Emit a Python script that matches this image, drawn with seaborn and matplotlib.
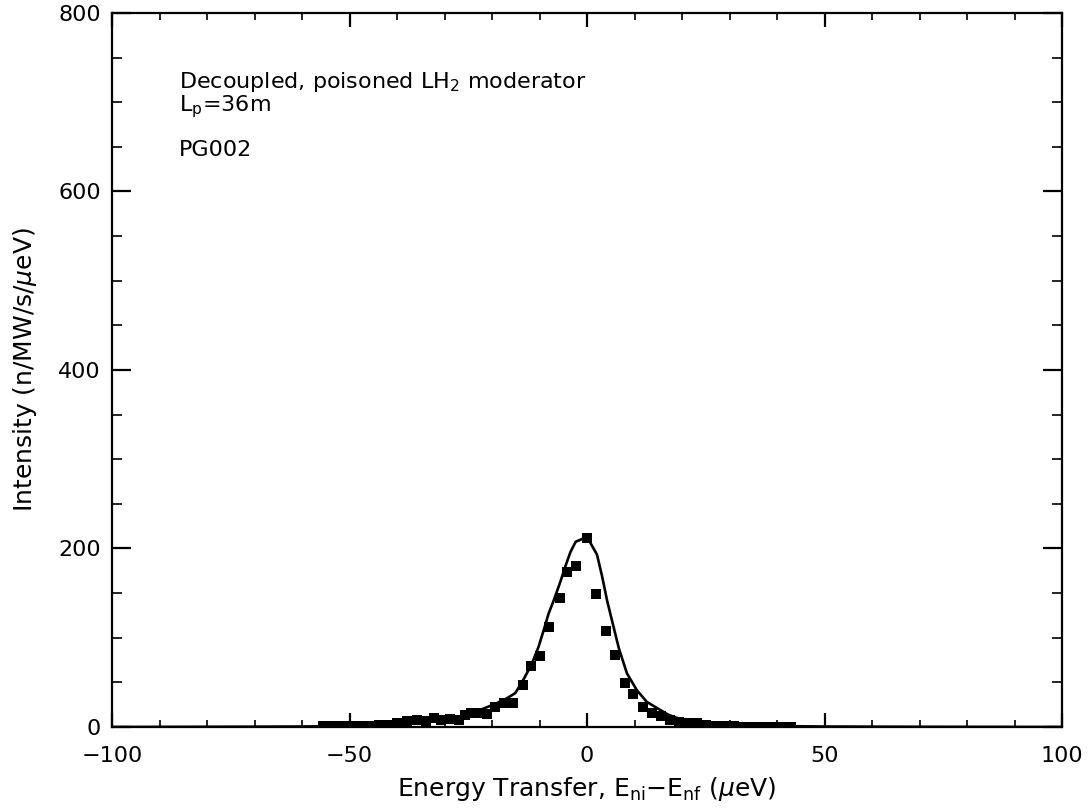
"""
Moderator line-shape plot: measured intensity vs. energy transfer
with the model curve on top.
"""
import matplotlib
matplotlib.use("Agg")
import matplotlib.pyplot as plt
from matplotlib.ticker import MultipleLocator
import pandas as pd
import seaborn as sns

# --- data ---
energy_pts = [-55.6, -53.7, -51.8, -49.9, -47.8, -45.7, -43.9, -42.0, -40.0, -37.9,
              -35.8, -34.0, -32.3, -30.7, -28.8, -27.0, -25.8, -24.4, -22.8, -21.1,
              -19.4, -17.5, -15.6, -13.5, -11.8, -9.9, -8.0, -5.8, -4.2, -2.3,
              0.0, 1.8, 4.0, 5.8, 7.9, 9.7, 11.8, 13.6, 15.6, 17.5,
              19.4, 21.3, 23.2, 25.1, 27.0, 29.0, 31.0, 33.0, 35.0, 37.0,
              39.0, 41.0, 43.0]
intensity_pts = [1, 1, 1, 1, 1.5, 1.5, 2, 2, 4.5, 6.5,
                 7.5, 7, 10, 7.5, 9, 8, 13, 15.5, 15.5, 15,
                 22, 27, 27, 47, 68, 80, 112, 144, 174, 180,
                 212, 149, 107, 81, 49, 37, 22, 16, 12, 8,
                 6, 5, 4, 2, 1.5, 1, 1, 0.5, 0.5, 0.5,
                 0.5, 0.5, 0.5]

energy_fit = [-100, -80, -60, -50, -40, -35, -30, -25, -19.7, -16.9, -15.1, -13.4,
              -11.6, -10.2, -9.1, -8.1, -7.0, -5.6, -4.6, -3.5, -2.4, 0.0,
              2.1, 3.2, 4.2, 5.4, 6.7, 8.4, 10.5, 12.6, 14.8, 17, 20, 25,
              30, 40, 50, 70, 100]
intensity_fit = [0, 0.2, 0.5, 1, 3, 5, 8, 14, 25, 32, 38, 53,
                 71, 90, 109, 127, 142, 163, 179.5, 196, 207.5, 213,
                 193, 168, 142, 116, 88, 60, 41, 28, 21, 14, 8, 4,
                 2, 1, 0.5, 0.2, 0]

df_pts = pd.DataFrame({"energy": energy_pts, "intensity": intensity_pts})
df_fit = pd.DataFrame({"energy": energy_fit, "intensity": intensity_fit})

# --- global style ---
sns.set_theme(style="ticks")
plt.rcParams['font.family'] = ['DejaVu Sans']
plt.rcParams['mathtext.fontset'] = 'dejavusans'
plt.rcParams['axes.linewidth'] = 1.6
plt.rcParams['text.color'] = 'black'
plt.rcParams['axes.labelcolor'] = 'black'

fig = plt.figure(figsize=(10.92, 8.10), dpi=100)
ax = fig.add_axes([0.1026, 0.1025, 0.87, 0.8815])

sns.lineplot(data=df_fit, x="energy", y="intensity", ax=ax,
             color="black", linewidth=1.9, sort=True)
sns.scatterplot(data=df_pts, x="energy", y="intensity", ax=ax,
                marker="s", s=60, color="black", edgecolor="black", linewidth=0)

ax.set_xlim(-100, 100)
ax.set_ylim(0, 800)
ax.xaxis.set_major_locator(MultipleLocator(50))
ax.xaxis.set_minor_locator(MultipleLocator(10))
ax.yaxis.set_major_locator(MultipleLocator(200))
ax.yaxis.set_minor_locator(MultipleLocator(50))
ax.tick_params(which="both", direction="in", top=True, right=True,
               labelsize=16, colors="black")
ax.tick_params(axis="x", which="major", length=10, width=1.6, pad=14)
ax.tick_params(axis="x", which="minor", length=5, width=1.2)
ax.tick_params(axis="y", which="major", length=14, width=1.6, pad=8)
ax.tick_params(axis="y", which="minor", length=7, width=1.2)

for side in ax.spines.values():
    side.set_color("black")

ax.set_xlabel(r"Energy Transfer, E$_{\rm ni}$$-$E$_{\rm nf}$ ($\mu$eV)", fontsize=18, labelpad=6)
ax.set_ylabel(r"Intensity (n/MW/s/$\mu$eV)", fontsize=18, labelpad=14)

ax.text(0.07, 0.895, r"Decoupled, poisoned LH$_2$ moderator", transform=ax.transAxes,
        fontsize=16, va="baseline")
ax.text(0.07, 0.862, r"L$_{\rm p}$=36m", transform=ax.transAxes,
        fontsize=16, va="baseline")
ax.text(0.07, 0.8, "PG002", transform=ax.transAxes,
        fontsize=16, va="baseline")

fig.savefig("out.png", dpi=100, facecolor="white")
plt.close(fig)
